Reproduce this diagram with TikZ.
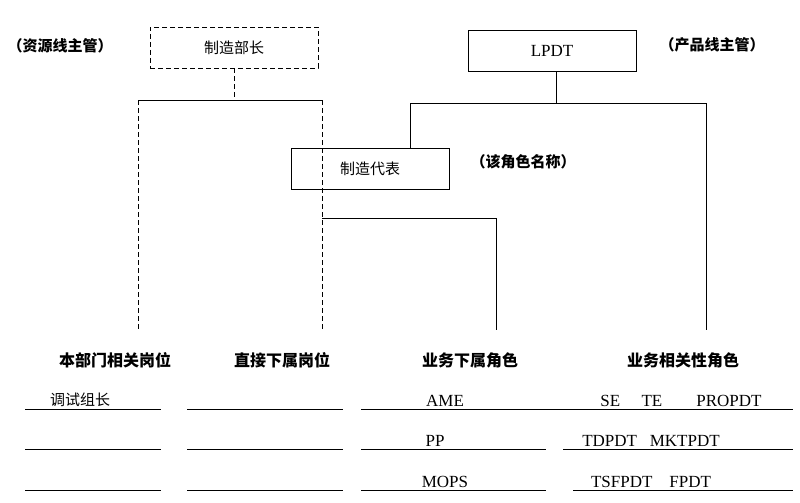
\documentclass[tikz,border=0pt]{standalone}
\usepackage{fontspec}
\setmainfont{Liberation Serif}
\newfontfamily\cjk{Noto Sans CJK SC}
\usetikzlibrary{positioning}
\tikzset{box/.style = {draw, minimum width=158pt, minimum height=41pt, font=\cjk\fontsize{15}{18}\selectfont}}
\tikzset{note/.style = {font=\cjk\bfseries\fontsize{15}{18}\selectfont}}
\tikzset{head/.style = {font=\cjk\bfseries\fontsize{16}{19}\selectfont}}
\tikzset{entry/.style = {font=\fontsize{17}{20}\selectfont, anchor=base}}
\tikzset{link/.style = {line width=0.8pt}}
\tikzset{dline/.style = {dash pattern=on 5pt off 3pt}}

\begin{document}
\begin{tikzpicture}[x=1pt,y=-1pt]
    \useasboundingbox (0,0) rectangle (800,503);

    % Boxes
    \node[box, dline, minimum width=168pt] (zzbz) at (234,47.5) {制造部长};
    \node[box, minimum width=168pt, font=\fontsize{17}{20}\selectfont] (lpdt) at (552,51) {LPDT};
    \node[box] (zzdb) at (370,168.5) {制造代表};

    % Notes
    \node[note] (zy) at (60,46) {（资源线主管）};
    \node[note] (cp) at (712,45) {（产品线主管）};
    \node[note] (js) at (523,162) {（该角色名称）};

    % Junctions
    \coordinate (a1) at (234,100);
    \coordinate (a2) at (138,100);
    \coordinate (a3) at (322,100);
    \coordinate (b1) at (556,103);
    \coordinate (b2) at (410,103);
    \coordinate (b3) at (706,103);
    \coordinate (c1) at (322,218);
    \coordinate (c2) at (496,218);
    \coordinate (e1) at (138,330);
    \coordinate (e2) at (322,330);
    \coordinate (e3) at (496,330);
    \coordinate (e4) at (706,330);

    \draw[link, dline] (zzbz.south) -- (a1);
    \draw[link] (a2) -- (a3);
    \draw[link, dline] (a2) -- (e1);
    \draw[link, dline] (a3) -- (e2);
    \draw[link] (lpdt.south -| b1) -- (b1);
    \draw[link] (b2) -- (b3) -- (e4);
    \draw[link] (b2) -- (b2 |- zzdb.north);
    \draw[link] (c1) -- (c2) -- (e3);

    % Column heads
    \node[head] (h1) at (115,360) {本部门相关岗位};
    \node[head] (h2) at (282,360) {直接下属岗位};
    \node[head] (h3) at (470,360) {业务下属角色};
    \node[head] (h4) at (683,360) {业务相关性角色};

    % Rows
    \foreach \y in {409,449,490} {
        \draw (25,\y) -- (161,\y);
        \draw (187,\y) -- (343,\y);
    }
    \draw (361,409) -- (793,409);
    \draw (361,449) -- (546,449);
    \draw (563,449) -- (793,449);
    \draw (361,490) -- (546,490);
    \draw (573,490) -- (793,490);

    \node[entry, font=\cjk\fontsize{15}{18}\selectfont] (t1) at (80,405) {调试组长};
    \node[entry] (r1) at (445,406) {AME};
    \node[entry] (r2) at (435,446) {PP};
    \node[entry] (r3) at (445,487) {MOPS};
    \node[entry] (s1) at (681,406) {SE\quad\ TE\quad\quad PROPDT};
    \node[entry] (s2) at (651,446) {TDPDT\ \ \ MKTPDT};
    \node[entry] (s3) at (651,487) {TSFPDT\ \ \ \ FPDT};
\end{tikzpicture}
\end{document}
